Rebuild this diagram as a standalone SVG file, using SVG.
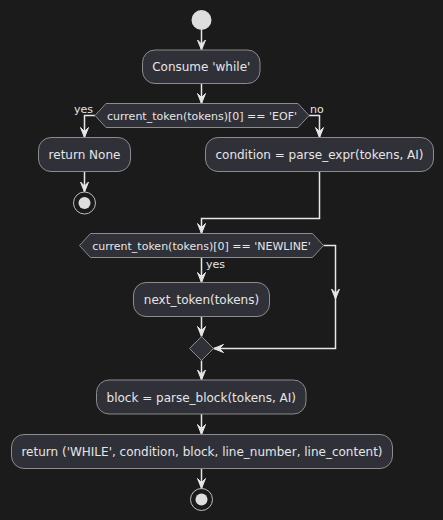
<svg xmlns="http://www.w3.org/2000/svg" width="443" height="520" viewBox="0 0 443 520">
<style>
.bg{fill:#1b1b1b}
.box{fill:#2f3038;stroke:#8c8c8c;stroke-width:1}
.t{font-family:"DejaVu Sans","Liberation Sans",sans-serif;font-size:12px;fill:#e6e6e6;text-anchor:middle}
.dt{font-family:"DejaVu Sans","Liberation Sans",sans-serif;font-size:11px;fill:#e6e6e6;text-anchor:middle}
.lbl{font-family:"DejaVu Sans","Liberation Sans",sans-serif;font-size:11px;fill:#e6e6e6}
.ln{fill:none;stroke:#e6e6e6;stroke-width:1.5}
.ah{fill:#e6e6e6;stroke:#e6e6e6;stroke-width:1}
.start{fill:#dedede}
.endo{fill:none;stroke:#bdbdbd;stroke-width:1}
.endi{fill:#dedede}
</style>
<defs>
<polygon id="ad" points="-4,-10 0,0 4,-10 0,-6"/>
<polygon id="al" points="10,-4 0,0 10,4 6,0"/>
</defs>
<rect class="bg" x="0" y="0" width="443" height="520"/>
<g id="connectors">
<path class="ln" d="M201.5,30 V50"/>
<use href="#ad" class="ah" x="201.5" y="50"/>
<path class="ln" d="M201.5,83.5 V103.5"/>
<use href="#ad" class="ah" x="201.5" y="103.5"/>
<path class="ln" d="M95,115.5 H84.5 V137.5"/>
<use href="#ad" class="ah" x="84.5" y="137.5"/>
<path class="ln" d="M309,115.5 H319.5 V137.5"/>
<use href="#ad" class="ah" x="319.5" y="137.5"/>
<path class="ln" d="M84.5,171.5 V192"/>
<use href="#ad" class="ah" x="84.5" y="192"/>
<path class="ln" d="M319.5,171.5 V218.5 H201.5 V233.5"/>
<use href="#ad" class="ah" x="201.5" y="233.5"/>
<path class="ln" d="M201.5,257.5 V282.5"/>
<use href="#ad" class="ah" x="201.5" y="282.5"/>
<path class="ln" d="M323.5,245.5 H335.5 V348.5 H213.5"/>
<use href="#ad" class="ah" x="335.5" y="299"/>
<use href="#al" class="ah" x="213.5" y="348.5"/>
<path class="ln" d="M201.5,316.5 V336.5"/>
<use href="#ad" class="ah" x="201.5" y="336.5"/>
<path class="ln" d="M201.5,360.5 V380"/>
<use href="#ad" class="ah" x="201.5" y="380"/>
<path class="ln" d="M201.5,414 V434.5"/>
<use href="#ad" class="ah" x="201.5" y="434.5"/>
<path class="ln" d="M201.5,468.5 V488.5"/>
<use href="#ad" class="ah" x="201.5" y="488.5"/>
<text class="lbl" x="93" y="113" text-anchor="end">yes</text>
<text class="lbl" x="310" y="113">no</text>
<text class="lbl" x="206" y="268">yes</text>
</g>
<g id="start"><circle class="start" cx="201.5" cy="20" r="10"/></g>
<g id="consume">
<rect class="box" x="142.5" y="50" width="117.5" height="33.5" rx="12.5"/>
<text class="t" x="201.25" y="71">Consume 'while'</text>
</g>
<g id="if_eof">
<polygon class="box" points="95,115.5 106,103.5 298,103.5 309,115.5 298,127.5 106,127.5"/>
<text class="dt" x="202" y="119.5">current_token(tokens)[0] == 'EOF'</text>
</g>
<g id="return_none">
<rect class="box" x="38.5" y="137.5" width="92" height="34" rx="12.5"/>
<text class="t" x="84.5" y="159">return None</text>
</g>
<g id="end1">
<circle class="endo" cx="84.5" cy="203" r="11"/>
<circle class="endi" cx="84.5" cy="203" r="6"/>
</g>
<g id="condition">
<rect class="box" x="205.5" y="137.5" width="228" height="34" rx="12.5"/>
<text class="t" x="319.5" y="159">condition = parse_expr(tokens, AI)</text>
</g>
<g id="if_newline">
<polygon class="box" points="79.5,245.5 90.5,233.5 312.5,233.5 323.5,245.5 312.5,257.5 90.5,257.5"/>
<text class="dt" x="201.5" y="249.5">current_token(tokens)[0] == 'NEWLINE'</text>
</g>
<g id="next_token">
<rect class="box" x="133.5" y="282.5" width="136" height="34" rx="12.5"/>
<text class="t" x="201.5" y="304">next_token(tokens)</text>
</g>
<g id="merge">
<polygon class="box" points="201.5,336.5 213.5,348.5 201.5,360.5 189.5,348.5"/>
</g>
<g id="block">
<rect class="box" x="96.5" y="380" width="209.5" height="34" rx="12.5"/>
<text class="t" x="201.25" y="401.5">block = parse_block(tokens, AI)</text>
</g>
<g id="return_while">
<rect class="box" x="11.5" y="434.5" width="381" height="34" rx="12.5"/>
<text class="t" x="202" y="456">return ('WHILE', condition, block, line_number, line_content)</text>
</g>
<g id="end2">
<circle class="endo" cx="201.5" cy="499.5" r="11"/>
<circle class="endi" cx="201.5" cy="499.5" r="6"/>
</g>
</svg>
